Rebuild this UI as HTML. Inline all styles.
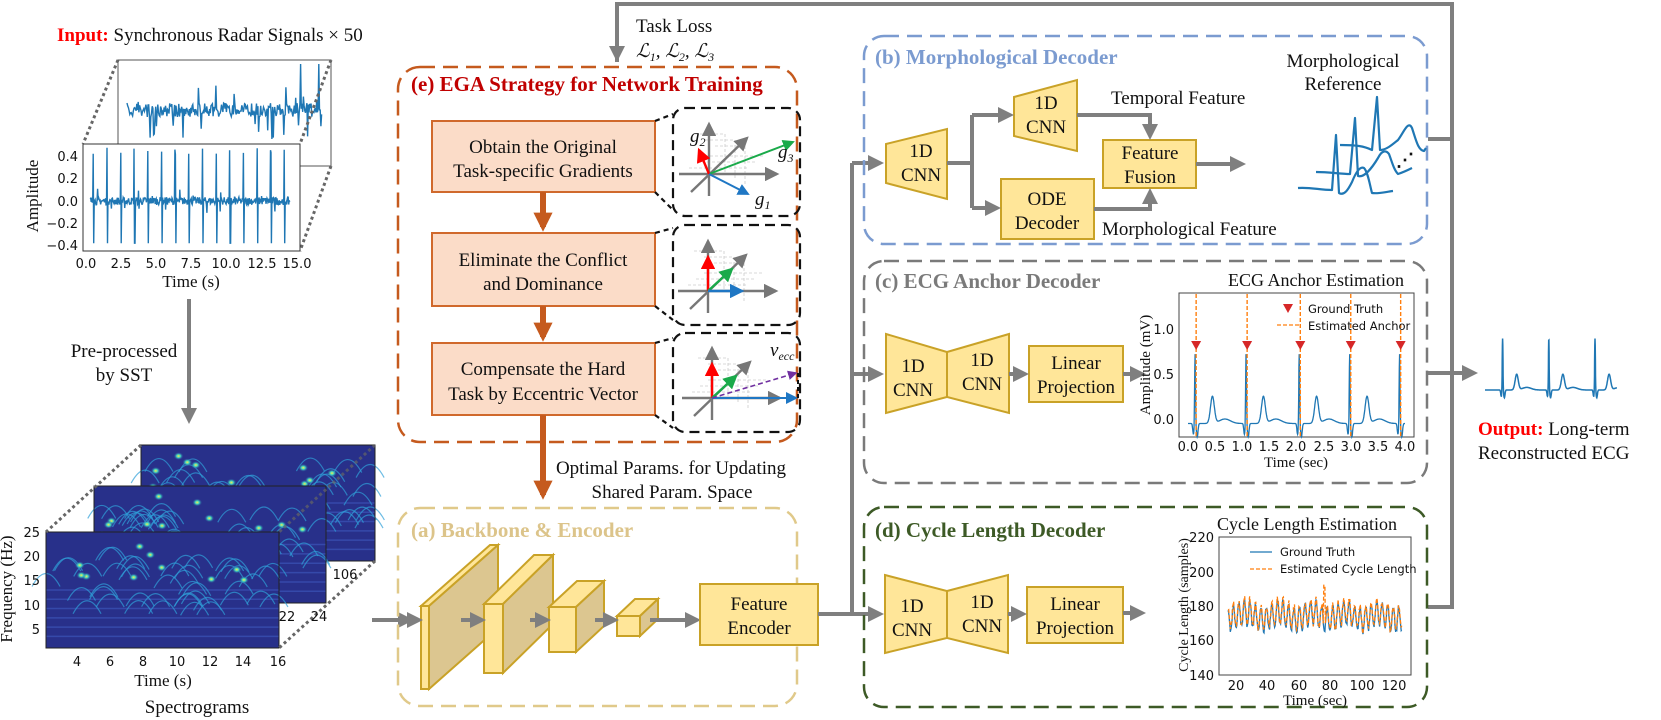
<!DOCTYPE html>
<html><head><meta charset="utf-8"><style>
html,body{margin:0;padding:0;background:#fff}
svg{display:block}
text{font-family:"Liberation Serif","DejaVu Serif",serif;fill:#111}
.s{font-family:"DejaVu Sans","Liberation Sans",sans-serif;font-size:13px}
.b{font-family:"Liberation Serif","DejaVu Serif",serif;font-size:19px}
.t{font-family:"Liberation Serif","DejaVu Serif",serif;font-size:21px;font-weight:bold}
</style></head><body>
<svg id="sv" width="1661" height="720" viewBox="0 0 1661 720" xmlns="http://www.w3.org/2000/svg" font-family="Liberation Serif, serif">
<defs>
<marker id="ag" markerWidth="4" markerHeight="4" refX="3" refY="2" orient="auto" markerUnits="strokeWidth"><path d="M0,0 L4,2 L0,4 z" fill="#7f7f7f"/></marker>
<marker id="ao" markerWidth="3.2" markerHeight="3.2" refX="2.4" refY="1.6" orient="auto" markerUnits="strokeWidth"><path d="M0,0 L3.2,1.6 L0,3.2 z" fill="#c55a1e"/></marker>
<marker id="ak" markerWidth="6" markerHeight="6" refX="5" refY="3" orient="auto" markerUnits="strokeWidth"><path d="M0,0 L6,3 L0,6 z" fill="#777"/></marker>
<marker id="ar" markerWidth="6" markerHeight="6" refX="5" refY="3" orient="auto" markerUnits="strokeWidth"><path d="M0,0 L6,3 L0,6 z" fill="#f00"/></marker>
<marker id="agr" markerWidth="6" markerHeight="6" refX="5" refY="3" orient="auto" markerUnits="strokeWidth"><path d="M0,0 L6,3 L0,6 z" fill="#1aaa4a"/></marker>
<marker id="abl" markerWidth="6" markerHeight="6" refX="5" refY="3" orient="auto" markerUnits="strokeWidth"><path d="M0,0 L6,3 L0,6 z" fill="#1f77c4"/></marker>
<marker id="apu" markerWidth="6" markerHeight="6" refX="5" refY="3" orient="auto" markerUnits="strokeWidth"><path d="M0,0 L6,3 L0,6 z" fill="#7030a0"/></marker>
<radialGradient id="blob"><stop offset="0" stop-color="#ffe94a"/><stop offset="0.4" stop-color="#3fd6c0"/><stop offset="1" stop-color="#2a3a9e" stop-opacity="0"/></radialGradient>
</defs>

<text x="57" y="41" class="b"><tspan font-weight="bold" style="fill:#f00">Input:</tspan> Synchronous Radar Signals × 50</text>
<rect x="118" y="60" width="213" height="106" fill="#fff" stroke="#555" stroke-width="1"/>
<g id="backradar"></g>
<line x1="118" y1="60" x2="83" y2="144" stroke="#666" stroke-width="3" stroke-dasharray="3 3"/>
<line x1="331" y1="60" x2="300" y2="144" stroke="#666" stroke-width="3" stroke-dasharray="3 3"/>
<line x1="331" y1="166" x2="300" y2="251" stroke="#666" stroke-width="3" stroke-dasharray="3 3"/>
<rect x="83" y="144" width="217" height="107" fill="#fff" stroke="#333" stroke-width="1"/>
<g id="frontradar"></g>
<g text-anchor="end">
<text x="78" y="161" class="s">0.4</text><text x="78" y="183" class="s">0.2</text><text x="78" y="206" class="s">0.0</text><text x="78" y="228" class="s">−0.2</text><text x="78" y="250" class="s">−0.4</text></g>
<g text-anchor="middle">
<text x="86" y="268" class="s">0.0</text><text x="121" y="268" class="s">2.5</text><text x="156" y="268" class="s">5.0</text><text x="191" y="268" class="s">7.5</text><text x="226" y="268" class="s">10.0</text><text x="262" y="268" class="s">12.5</text><text x="297" y="268" class="s">15.0</text>
<text x="191" y="287" font-size="17">Time (s)</text>
<text transform="translate(38,196) rotate(-90)" font-size="17">Amplitude</text>
</g>
<line x1="189" y1="299" x2="189" y2="420" stroke="#7f7f7f" stroke-width="4" marker-end="url(#ag)"/>
<text x="124" y="357" class="b" text-anchor="middle">Pre-processed</text>
<text x="124" y="381" class="b" text-anchor="middle">by SST</text>

<g id="spec"></g>
<line x1="141" y1="445" x2="46" y2="532" stroke="#666" stroke-width="3" stroke-dasharray="3 3"/>
<line x1="375" y1="445" x2="279" y2="532" stroke="#666" stroke-width="3" stroke-dasharray="3 3" opacity="0.7"/>
<line x1="375" y1="561" x2="279" y2="648" stroke="#666" stroke-width="3" stroke-dasharray="3 3"/>
<g text-anchor="end"><text x="40" y="537" class="s">25</text><text x="40" y="561" class="s">20</text><text x="40" y="585" class="s">15</text><text x="40" y="610" class="s">10</text><text x="40" y="634" class="s">5</text></g>
<g text-anchor="middle">
<text x="77" y="666" class="s">4</text><text x="110" y="666" class="s">6</text><text x="143" y="666" class="s">8</text><text x="177" y="666" class="s">10</text><text x="210" y="666" class="s">12</text><text x="243" y="666" class="s">14</text><text x="278" y="666" class="s">16</text>
<text x="345" y="579" class="s">106</text><text x="287" y="621" class="s">22</text><text x="319" y="621" class="s">24</text></g>
<text x="163" y="686" font-size="17" text-anchor="middle">Time (s)</text>
<text x="197" y="713" class="b" text-anchor="middle">Spectrograms</text>
<text transform="translate(12,589) rotate(-90)" font-size="17" text-anchor="middle">Frequency (Hz)</text>
<line x1="372" y1="620" x2="410" y2="620" stroke="#7f7f7f" stroke-width="4" marker-end="url(#ag)"/>

<polyline points="617,62 617,4 1452,4 1452,607 1428,607" fill="none" stroke="#7f7f7f" stroke-width="4"/>
<line x1="617" y1="10" x2="617" y2="58" stroke="#7f7f7f" stroke-width="4" marker-end="url(#ag)"/>
<line x1="1428" y1="139" x2="1452" y2="139" stroke="#7f7f7f" stroke-width="4"/>
<line x1="1428" y1="373" x2="1474" y2="373" stroke="#7f7f7f" stroke-width="4" marker-end="url(#ag)"/>
<text x="636" y="32" class="b">Task Loss</text>
<text x="636" y="57" class="b" font-style="italic">ℒ<tspan font-size="12" dy="4">1</tspan><tspan dy="-4">, ℒ</tspan><tspan font-size="12" dy="4">2</tspan><tspan dy="-4">, ℒ</tspan><tspan font-size="12" dy="4">3</tspan></text>

<rect x="398" y="67" width="399" height="375" rx="22" fill="none" stroke="#c55a1e" stroke-width="2.5" stroke-dasharray="15 8"/>
<text x="411" y="91" class="t" style="fill:#c00000">(e) EGA Strategy for Network Training</text>
<g fill="#fbdcc8" stroke="#d0692c" stroke-width="2">
<rect x="432" y="121" width="223" height="71"/><rect x="432" y="233" width="223" height="73"/><rect x="432" y="343" width="223" height="72"/></g>
<g text-anchor="middle">
<text x="543" y="153" class="b">Obtain the Original</text><text x="543" y="177" class="b">Task-specific Gradients</text>
<text x="543" y="266" class="b">Eliminate the Conflict</text><text x="543" y="290" class="b">and Dominance</text>
<text x="543" y="375" class="b">Compensate the Hard</text><text x="543" y="400" class="b">Task by Eccentric Vector</text></g>
<g stroke="#c55a1e" stroke-width="6">
<line x1="543" y1="192" x2="543" y2="227" marker-end="url(#ao)"/>
<line x1="543" y1="306" x2="543" y2="337" marker-end="url(#ao)"/>
<line x1="543" y1="415" x2="543" y2="495" marker-end="url(#ao)"/></g>
<g fill="none" stroke="#111" stroke-width="2.2" stroke-dasharray="10 6">
<rect x="673" y="108" width="127" height="108" rx="12"/><rect x="673" y="225" width="127" height="100" rx="12"/><rect x="673" y="333" width="127" height="99" rx="12"/>
<path d="M655,121 L673,114 M655,192 L673,210 M655,233 L673,228 M655,306 L673,320 M655,343 L673,338 M655,415 L673,428" stroke-dasharray="5 4"/></g>
<g id="mini1" transform="translate(709,174)"></g>
<g id="mini2" transform="translate(708,291)"></g>
<g id="mini3" transform="translate(712,398)"></g>
<text x="690" y="142" font-size="19" font-style="italic">g<tspan font-size="12" dy="4">2</tspan></text>
<text x="778" y="158" font-size="19" font-style="italic">g<tspan font-size="12" dy="4">3</tspan></text>
<text x="755" y="205" font-size="19" font-style="italic">g<tspan font-size="12" dy="4">1</tspan></text>
<text x="770" y="356" font-size="19" font-style="italic">v<tspan font-size="12" dy="4">ecc</tspan></text>

<text x="671" y="474" class="b" text-anchor="middle">Optimal Params. for Updating</text>
<text x="672" y="498" class="b" text-anchor="middle">Shared Param. Space</text>

<rect x="398" y="508" width="399" height="198" rx="22" fill="none" stroke="#e0c98a" stroke-width="2.5" stroke-dasharray="15 8"/>
<text x="411" y="537" class="t" style="fill:#dcc48a">(a) Backbone &amp; Encoder</text>
<g id="blocks" stroke="#c9a227" stroke-width="2"></g>
<rect x="700" y="584" width="118" height="61" fill="#ffe699" stroke="#c9a227" stroke-width="2"/>
<text x="759" y="610" class="b" text-anchor="middle">Feature</text><text x="759" y="634" class="b" text-anchor="middle">Encoder</text>

<polyline points="818,614 852,614 852,163" fill="none" stroke="#7f7f7f" stroke-width="4"/>
<line x1="852" y1="163" x2="880" y2="163" stroke="#7f7f7f" stroke-width="4" marker-end="url(#ag)"/>
<line x1="852" y1="374" x2="880" y2="374" stroke="#7f7f7f" stroke-width="4" marker-end="url(#ag)"/>
<line x1="852" y1="614" x2="880" y2="614" stroke="#7f7f7f" stroke-width="4" marker-end="url(#ag)"/>

<rect x="864" y="36" width="563" height="208" rx="20" fill="none" stroke="#7b9bd0" stroke-width="2.5" stroke-dasharray="15 8"/>
<text x="875" y="64" class="t" style="fill:#7b9bd0">(b) Morphological Decoder</text>
<g fill="#ffe699" stroke="#c9a227" stroke-width="2">
<polygon points="886,144 947,129 947,199 886,183"/>
<polygon points="1014,97 1077,80 1077,151 1014,136"/>
<rect x="1001" y="179" width="93" height="60"/>
<rect x="1103" y="140" width="93" height="48"/></g>
<g text-anchor="middle">
<text x="921" y="157" class="b">1D</text><text x="921" y="181" class="b">CNN</text>
<text x="1046" y="109" class="b">1D</text><text x="1046" y="133" class="b">CNN</text>
<text x="1047" y="205" class="b">ODE</text><text x="1047" y="229" class="b">Decoder</text>
<text x="1150" y="159" class="b">Feature</text><text x="1150" y="183" class="b">Fusion</text></g>
<g fill="none" stroke="#7f7f7f" stroke-width="4">
<polyline points="947,163 972,163"/><polyline points="972,115 972,208"/>
<line x1="972" y1="115" x2="1010" y2="115" marker-end="url(#ag)"/>
<line x1="972" y1="208" x2="997" y2="208" marker-end="url(#ag)"/>
<polyline points="1077,115 1150,115 1150,136" marker-end="url(#ag)"/>
<polyline points="1094,209 1150,209 1150,192" marker-end="url(#ag)"/>
<line x1="1196" y1="164" x2="1242" y2="164" marker-end="url(#ag)"/></g>
<text x="1111" y="104" class="b">Temporal Feature</text>
<text x="1102" y="235" class="b">Morphological Feature</text>
<text x="1343" y="67" class="b" text-anchor="middle">Morphological</text>
<text x="1343" y="90" class="b" text-anchor="middle">Reference</text>
<g fill="none" stroke="#1f77b4" stroke-width="2.2" stroke-linejoin="round">
<path d="M1298,188 C1310,187 1320,190 1332,190 L1336,135 L1339,193 C1344,196 1348,190 1352,182 C1356,172 1360,166 1364,168 C1368,172 1370,186 1372,193 C1378,194 1385,192 1393,191"/>
<path d="M1316,172 C1330,172 1340,174 1350,174 L1355,118 L1358,176 C1364,178 1372,168 1378,158 C1382,150 1386,150 1389,154 C1392,162 1394,170 1398,174 C1404,172 1408,170 1412,168"/>
<path d="M1340,145 C1356,145 1364,146 1372,150 L1377,97 L1380,150 C1386,150 1392,145 1398,140 C1404,132 1408,120 1412,128 C1416,140 1418,150 1424,151 L1426,148"/></g>
<text x="1396" y="166" font-size="18" font-weight="bold">⋰</text>

<rect x="864" y="261" width="563" height="222" rx="20" fill="none" stroke="#7a7a7a" stroke-width="2.5" stroke-dasharray="15 8"/>
<text x="875" y="288" class="t" style="fill:#7a7a7a">(c) ECG Anchor Decoder</text>
<g fill="#ffe699" stroke="#c9a227" stroke-width="2">
<polygon points="886,334 947,352 947,397 886,413"/><polygon points="947,352 1009,334 1009,413 947,397"/>
<rect x="1029" y="346" width="94" height="56"/></g>
<g text-anchor="middle">
<text x="913" y="372" class="b">1D</text><text x="913" y="396" class="b">CNN</text>
<text x="982" y="366" class="b">1D</text><text x="982" y="390" class="b">CNN</text>
<text x="1076" y="369" class="b">Linear</text><text x="1076" y="393" class="b">Projection</text></g>
<line x1="1009" y1="374" x2="1025" y2="374" stroke="#7f7f7f" stroke-width="4" marker-end="url(#ag)"/>
<line x1="1123" y1="374" x2="1142" y2="374" stroke="#7f7f7f" stroke-width="4" marker-end="url(#ag)"/>
<text x="1316" y="286" font-size="18" text-anchor="middle">ECG Anchor Estimation</text>
<rect x="1179" y="293" width="235" height="144" fill="none" stroke="#444" stroke-width="1"/>
<g id="ecgc"></g>
<g text-anchor="end"><text x="1174" y="334" class="s">1.0</text><text x="1174" y="379" class="s">0.5</text><text x="1174" y="424" class="s">0.0</text></g>
<g text-anchor="middle"><text x="1188" y="451" class="s">0.0</text><text x="1215" y="451" class="s">0.5</text><text x="1242" y="451" class="s">1.0</text><text x="1269" y="451" class="s">1.5</text><text x="1296" y="451" class="s">2.0</text><text x="1324" y="451" class="s">2.5</text><text x="1351" y="451" class="s">3.0</text><text x="1378" y="451" class="s">3.5</text><text x="1405" y="451" class="s">4.0</text></g>
<text x="1296" y="467" font-size="15" text-anchor="middle">Time (sec)</text>
<text transform="translate(1150,365) rotate(-90)" font-size="15" text-anchor="middle">Amplitude (mV)</text>
<path d="M1283,304 L1293,304 L1288,313 z" fill="#d62728"/>
<text x="1308" y="313" class="s" style="font-size:11.5px">Ground Truth</text>
<line x1="1277" y1="325" x2="1300" y2="325" stroke="#ff7f0e" stroke-width="1.3" stroke-dasharray="4 2"/>
<text x="1308" y="330" class="s" style="font-size:11.5px">Estimated Anchor</text>

<rect x="864" y="507" width="563" height="200" rx="20" fill="none" stroke="#3d5a26" stroke-width="2.5" stroke-dasharray="15 8"/>
<text x="875" y="537" class="t" style="fill:#3d5a26">(d) Cycle Length Decoder</text>
<g fill="#ffe699" stroke="#c9a227" stroke-width="2">
<polygon points="885,575 947,591 947,638 885,653"/><polygon points="947,591 1008,575 1008,653 947,638"/>
<rect x="1027" y="587" width="96" height="56"/></g>
<g text-anchor="middle">
<text x="912" y="612" class="b">1D</text><text x="912" y="636" class="b">CNN</text>
<text x="982" y="608" class="b">1D</text><text x="982" y="632" class="b">CNN</text>
<text x="1075" y="610" class="b">Linear</text><text x="1075" y="634" class="b">Projection</text></g>
<line x1="1008" y1="614" x2="1023" y2="614" stroke="#7f7f7f" stroke-width="4" marker-end="url(#ag)"/>
<line x1="1123" y1="613" x2="1142" y2="613" stroke="#7f7f7f" stroke-width="4" marker-end="url(#ag)"/>
<text x="1307" y="530" font-size="18" text-anchor="middle">Cycle Length Estimation</text>
<rect x="1219" y="537" width="192" height="138" fill="none" stroke="#444" stroke-width="1"/>
<g id="cyc"></g>
<g text-anchor="end"><text x="1214" y="542" class="s">220</text><text x="1214" y="577" class="s">200</text><text x="1214" y="611" class="s">180</text><text x="1214" y="645" class="s">160</text><text x="1214" y="680" class="s">140</text></g>
<g text-anchor="middle"><text x="1236" y="690" class="s">20</text><text x="1267" y="690" class="s">40</text><text x="1299" y="690" class="s">60</text><text x="1330" y="690" class="s">80</text><text x="1362" y="690" class="s">100</text><text x="1394" y="690" class="s">120</text></g>
<text x="1315" y="705" font-size="15" text-anchor="middle">Time (sec)</text>
<text transform="translate(1188,605) rotate(-90)" font-size="14" text-anchor="middle">Cycle Length (samples)</text>
<line x1="1250" y1="552" x2="1272" y2="552" stroke="#1f77b4" stroke-width="1.3"/>
<text x="1280" y="556" class="s" style="font-size:11.5px">Ground Truth</text>
<line x1="1250" y1="569" x2="1272" y2="569" stroke="#ff7f0e" stroke-width="1.3" stroke-dasharray="4 2"/>
<text x="1280" y="573" class="s" style="font-size:11.5px">Estimated Cycle Length</text>

<g id="outecg"></g>
<text x="1478" y="435" class="b"><tspan font-weight="bold" style="fill:#f00">Output:</tspan> Long-term</text>
<text x="1478" y="459" class="b">Reconstructed ECG</text>
</svg>
<script>
var NS="http://www.w3.org/2000/svg";
function el(p,t,a){var e=document.createElementNS(NS,t);for(var k in a)e.setAttribute(k,a[k]);document.getElementById(p).appendChild(e);return e;}
var seed=7;function rnd(){seed=(seed*16807)%2147483647;return seed/2147483647;}
(function(){var d="",x;for(x=127;x<=322;x+=0.7){var v=(rnd()-0.5)*14;if(rnd()<0.06)v=(rnd()-0.5)*60;if(rnd()<0.015)v=-46*(rnd()>0.3?1:-0.6);d+=(d?"L":"M")+x.toFixed(1)+","+(110+v).toFixed(1);}el("backradar","path",{d:d,fill:"none",stroke:"#1f77b4","stroke-width":1.4});})();
(function(){var d="",t;for(t=0.3;t<=14.5;t+=0.035){var v=(rnd()-0.5)*0.07;var ph=(t-0.5)%0.97;if(ph<0)ph+=0.97;if(ph<0.04)v=0.42+rnd()*0.06;else if(ph<0.08)v=-0.38;else if(ph>0.3&&ph<0.36)v+=(rnd()-0.5)*0.2;d+=(d?"L":"M")+(86+t*14.07).toFixed(1)+","+(201-v*111).toFixed(1);}el("frontradar","path",{d:d,fill:"none",stroke:"#1f77b4","stroke-width":1.4});})();
(function(){var S=[[141,445,234,116],[94,486,232,117],[46,532,233,116]];S.forEach(function(s,i){var g="sp"+i;el("spec","g",{id:g});el(g,"rect",{x:s[0],y:s[1],width:s[2],height:s[3],fill:"#28308a"});
for(var k=0;k<6;k++)el(g,"line",{x1:s[0],x2:s[0]+s[2],y1:s[1]+s[3]*(0.5+k*0.08),y2:s[1]+s[3]*(0.5+k*0.08),stroke:"#3f5bc0","stroke-width":1.5,opacity:0.6});
for(k=0;k<45;k++){var x=s[0]+rnd()*s[2],y=s[1]+8+rnd()*s[3]*0.5;el(g,"path",{d:"M"+(x-14)+","+(y+18)+" Q"+x+","+(y-8)+" "+(x+14)+","+(y+18),fill:"none",stroke:"#2fa0d8","stroke-width":1.2,opacity:0.7});}
for(k=0;k<10;k++){var x=s[0]+rnd()*s[2],y=s[1]+10+rnd()*s[3]*0.35;el(g,"ellipse",{cx:x,cy:y,rx:5,ry:4,fill:"url(#blob)"});}
el(g,"rect",{x:s[0],y:s[1],width:s[2],height:s[3],fill:"none",stroke:"#222","stroke-width":1});});})();
(function(){var B=[[421,606,8,83,69,-61],[484,604,19,69,50,-49],[549,607,27,45,28,-26],[617,616,23,20,18,-17]];
B.forEach(function(b){var x=b[0],y=b[1],w=b[2],h=b[3],dx=b[4],dy=b[5];
el("blocks","polygon",{points:[x,y,x+dx,y+dy,x+w+dx,y+dy,x+w,y].join(","),fill:"#ffe699"});
el("blocks","polygon",{points:[x+w,y,x+w+dx,y+dy,x+w+dx,y+h+dy,x+w,y+h].join(","),fill:"#dcc690"});
el("blocks","rect",{x:x,y:y,width:w,height:h,fill:"#ffe699"});});
var A=[[412,620,419],[461,620,482],[530,620,547],[595,620,615],[650,620,697]];
A.forEach(function(a){el("blocks","line",{x1:a[0],y1:a[1],x2:a[2],y2:a[1],stroke:"#7f7f7f","stroke-width":4,"marker-end":"url(#ag)"});});})();
function axes(id){for(var i=0;i<3;i++){el(id,"path",{d:"M"+(-14+i*10)+","+(-40+i*6)+" l30,0 l0,40 M"+(-20+i*8)+","+(-6-i*6)+" l60,0",fill:"none",stroke:"#ccc","stroke-width":0.8,"stroke-dasharray":"3 2"});}
el(id,"line",{x1:-30,y1:0,x2:68,y2:0,stroke:"#777","stroke-width":2.4,"marker-end":"url(#ak)"});
el(id,"line",{x1:0,y1:22,x2:0,y2:-50,stroke:"#777","stroke-width":2.4,"marker-end":"url(#ak)"});
el(id,"line",{x1:-18,y1:18,x2:38,y2:-36,stroke:"#777","stroke-width":2.4,"marker-end":"url(#ak)"});}
axes("mini1");el("mini1","line",{x1:0,y1:0,x2:84,y2:-32,stroke:"#1aaa4a","stroke-width":2,"marker-end":"url(#agr)"});
el("mini1","line",{x1:0,y1:0,x2:-10,y2:-24,stroke:"#f00","stroke-width":2.4,"marker-end":"url(#ar)"});
el("mini1","line",{x1:0,y1:0,x2:39,y2:20,stroke:"#1f77c4","stroke-width":2,"marker-end":"url(#abl)"});
axes("mini2");el("mini2","line",{x1:0,y1:0,x2:0,y2:-34,stroke:"#f00","stroke-width":2.4,"marker-end":"url(#ar)"});
el("mini2","line",{x1:0,y1:0,x2:24,y2:-22,stroke:"#1aaa4a","stroke-width":2.4,"marker-end":"url(#agr)"});
el("mini2","line",{x1:0,y1:0,x2:34,y2:0,stroke:"#1f77c4","stroke-width":2.4,"marker-end":"url(#abl)"});
axes("mini3");el("mini3","line",{x1:0,y1:0,x2:0,y2:-34,stroke:"#f00","stroke-width":2.4,"marker-end":"url(#ar)"});
el("mini3","line",{x1:0,y1:0,x2:24,y2:-22,stroke:"#1aaa4a","stroke-width":2.4,"marker-end":"url(#agr)"});
el("mini3","line",{x1:0,y1:0,x2:84,y2:0,stroke:"#1f77c4","stroke-width":2,"marker-end":"url(#abl)"});
el("mini3","line",{x1:0,y1:0,x2:84,y2:-25,stroke:"#7030a0","stroke-width":1.6,"stroke-dasharray":"5 3","marker-end":"url(#apu)"});
el("mini3","path",{d:"M86,-25 L86,0",stroke:"#111","stroke-width":2,"stroke-dasharray":"4 3",fill:"none"});
function ecgv(t,beats,amp){var v=0;beats.forEach(function(b){var d=t-b;v+=amp*Math.exp(-d*d/0.00012)-0.15*Math.exp(-(d-0.04)*(d-0.04)/0.0004)-0.12*Math.exp(-(d+0.03)*(d+0.03)/0.0003)+0.3*Math.exp(-(d-0.32)*(d-0.32)/0.0025)+0.05*Math.exp(-(d-0.55)*(d-0.55)/0.02);});return v;}
(function(){var B=[0.13,1.07,2.05,2.98,3.9],d="",t;for(t=0;t<=4;t+=0.005){var v=ecgv(t,B,0.78)-0.05;d+=(d?"L":"M")+(1188+t*54.25).toFixed(1)+","+(419-v*90).toFixed(1);}
el("ecgc","path",{d:d,fill:"none",stroke:"#1f77b4","stroke-width":1.3});
B.forEach(function(b){var x=1188+(b+0.02)*54.25;el("ecgc","line",{x1:x,x2:x,y1:294,y2:436,stroke:"#ff7f0e","stroke-width":1.4,"stroke-dasharray":"4 2"});el("ecgc","path",{d:"M"+(x-5)+",341 L"+(x+5)+",341 L"+x+",350 z",fill:"#d62728"});});})();
(function(){var d1="",d2="",s;for(s=15;s<=125;s+=0.35){var v=174+7*Math.sin(s*1.8)+2*Math.sin(s*0.3)+(rnd()-0.5)*3;var x=1236+(s-20)*1.58;d1+=(d1?"L":"M")+x.toFixed(1)+","+(537+(220-v)*1.725).toFixed(1);var v2=v+1+(rnd()-0.5)*3;if(Math.abs(s-76)<0.5)v2=192;d2+=(d2?"L":"M")+x.toFixed(1)+","+(537+(220-v2)*1.725).toFixed(1);}
el("cyc","path",{d:d1,fill:"none",stroke:"#1f77b4","stroke-width":1.3});el("cyc","path",{d:d2,fill:"none",stroke:"#ff7f0e","stroke-width":1.3,"stroke-dasharray":"4 2"});})();
(function(){var B=[0.4,1.45,2.5],d="",t;for(t=0;t<=3;t+=0.004){var v=ecgv(t,B,1)*1;d+=(d?"L":"M")+(1485+t*44).toFixed(1)+","+(390-v*52).toFixed(1);}el("outecg","path",{d:d,fill:"none",stroke:"#1f77b4","stroke-width":1.5});})();
</script>
</body></html>
